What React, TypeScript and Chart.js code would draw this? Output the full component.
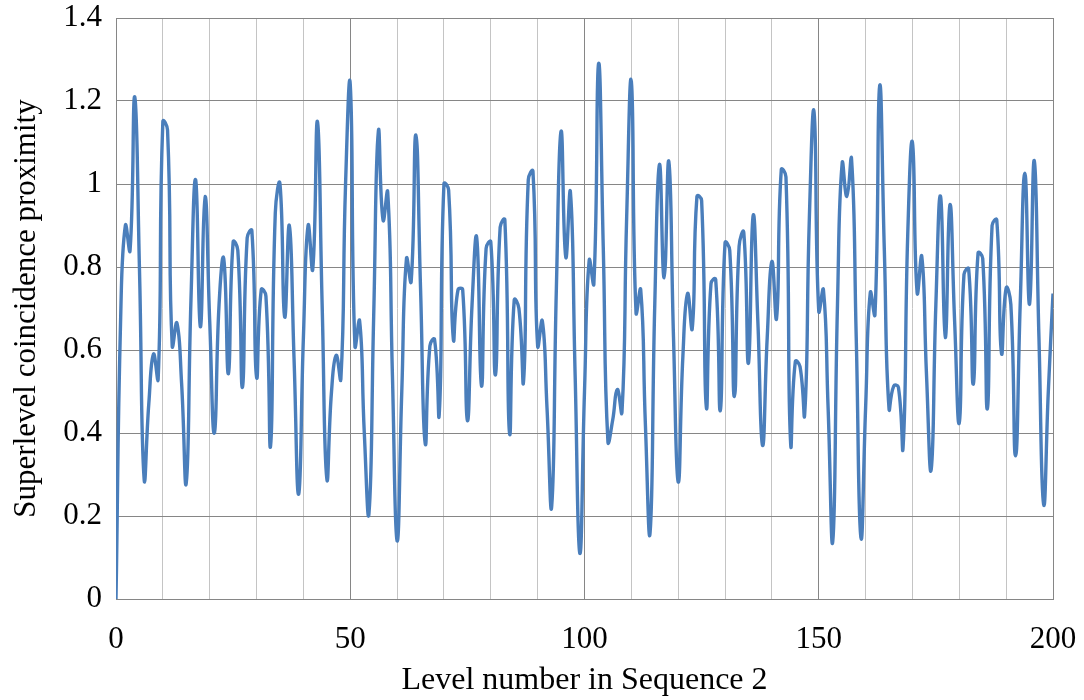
import React, { useEffect, useRef } from "react";
import { Chart, registerables } from "chart.js";

Chart.register(...registerables);

const levels: number[] = Array.from({ length: 201 }, (_, i) => i);

const proximity: number[] = [
  0, 0.68, 0.9, 0.84, 1.21, 0.8, 0.29, 0.47, 0.59, 0.53,
  1.15, 1.13, 0.61, 0.665, 0.52, 0.28, 0.72, 1.01, 0.656, 0.97,
  0.67, 0.4, 0.71, 0.82, 0.543, 0.86, 0.84, 0.51, 0.87, 0.887,
  0.535, 0.745, 0.73, 0.37, 0.93, 1.0, 0.68, 0.9, 0.58, 0.253,
  0.63, 0.9, 0.795, 1.15, 0.71, 0.29, 0.5, 0.587, 0.53, 1.0,
  1.24, 0.61, 0.67, 0.4, 0.207, 0.68, 1.127, 0.913, 0.98, 0.54,
  0.14, 0.5, 0.82, 0.765, 1.118, 0.75, 0.375, 0.61, 0.625, 0.446,
  1.0, 0.985, 0.627, 0.745, 0.745, 0.43, 0.71, 0.87, 0.513, 0.845,
  0.86, 0.54, 0.896, 0.913, 0.4, 0.72, 0.7, 0.526, 1.01, 1.03,
  0.61, 0.67, 0.46, 0.224, 0.75, 1.127, 0.824, 0.98, 0.54, 0.11,
  0.5, 0.816, 0.76, 1.29, 0.85, 0.38, 0.43, 0.505, 0.45, 0.92,
  1.247, 0.69, 0.745, 0.42, 0.16, 0.71, 1.047, 0.774, 1.054, 0.63,
  0.282, 0.585, 0.736, 0.652, 0.97, 0.96, 0.463, 0.76, 0.77, 0.455,
  0.858, 0.84, 0.488, 0.85, 0.883, 0.568, 0.924, 0.67, 0.37, 0.63,
  0.813, 0.677, 1.034, 1.017, 0.375, 0.572, 0.56, 0.446, 0.92, 1.173,
  0.694, 0.745, 0.46, 0.14, 0.71, 1.05, 0.97, 1.06, 0.63, 0.148,
  0.46, 0.738, 0.686, 1.236, 0.84, 0.459, 0.513, 0.51, 0.366, 0.88,
  1.1, 0.738, 0.825, 0.54, 0.312, 0.71, 0.97, 0.63, 0.95, 0.67,
  0.425, 0.782, 0.795, 0.518, 0.833, 0.82, 0.459, 0.9, 0.913, 0.593,
  0.749, 0.71, 0.345, 0.71, 1.026, 0.71, 1.056, 0.63, 0.228, 0.5,
  0.736,
];

const xTitle = "Level number in Sequence 2";
const yTitle = "Superlevel coincidence proximity";

const FONT = "'Liberation Serif', 'Times New Roman', serif";

export default function App() {
  const ref = useRef<HTMLCanvasElement | null>(null);

  useEffect(() => {
    if (!ref.current) return;
    const chart = new Chart(ref.current, {
      type: "line",
      data: {
        datasets: [
          {
            data: levels.map((x, i) => ({ x, y: proximity[i] })),
            borderColor: "#4A7EBB",
            borderWidth: 3.4,
            pointRadius: 0,
            tension: 0.5,
            fill: false,
          },
        ],
      },
      options: {
        animation: false,
        responsive: false,
        maintainAspectRatio: false,
        layout: { padding: { left: 0, right: 31, top: 18, bottom: 0 } },
        plugins: { legend: { display: false }, tooltip: { enabled: false } },
        scales: {
          x: {
            type: "linear",
            min: 0,
            max: 200,
            border: { display: true, color: "#868686", width: 1 },
            grid: {
              drawTicks: false,
              color: (c: any) => (c.tick && c.tick.value % 50 === 0 ? "#868686" : "#c4c4c4"),
              lineWidth: 1,
            },
            ticks: {
              stepSize: 10,
              autoSkip: false,
              maxRotation: 0,
              padding: 22,
              color: "#000",
              font: { family: FONT, size: 31 },
              callback: (v: any) => (Number(v) % 50 === 0 ? String(v) : ""),
            },
            title: {
              display: true,
              text: xTitle,
              color: "#000",
              font: { family: FONT, size: 32 },
              padding: { top: 10, bottom: 0 },
            },
            afterFit: (s: any) => {
              s.height = 101;
              s.paddingLeft = 0;
              s.paddingRight = 0;
            },
          },
          y: {
            min: 0,
            max: 1.4,
            border: { display: true, color: "#868686", width: 1 },
            grid: { drawTicks: false, color: "#868686", lineWidth: 1 },
            ticks: {
              stepSize: 0.2,
              padding: 14,
              color: "#000",
              font: { family: FONT, size: 31 },
              callback: (v: any) => String(Number(Number(v).toFixed(1))),
            },
            title: {
              display: true,
              text: yTitle,
              color: "#000",
              font: { family: FONT, size: 31 },
              padding: { top: 8, bottom: 0 },
            },
            afterFit: (s: any) => {
              s.width = 116;
              s.paddingTop = 0;
              s.paddingBottom = 0;
            },
          },
        },
      },
    });
    return () => chart.destroy();
  }, []);

  return (
    <div style={{ position: "fixed", left: 0, top: 0, width: 1084, height: 700, background: "#fff" }}>
      <canvas ref={ref} width={1084} height={700} />
    </div>
  );
}
